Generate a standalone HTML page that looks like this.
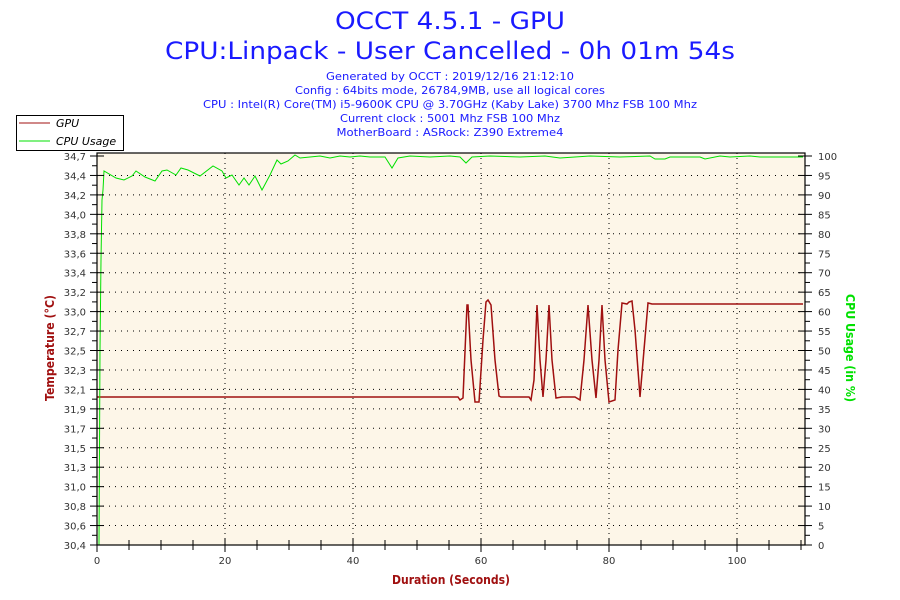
<!DOCTYPE html>
<html><head><meta charset="utf-8"><style>
html,body{margin:0;padding:0;background:#fff;width:900px;height:600px;overflow:hidden}
svg{display:block;font-family:"DejaVu Sans","Liberation Sans",sans-serif}
</style></head><body>
<svg id="s" width="900" height="600" xmlns="http://www.w3.org/2000/svg">
<rect x="97" y="153" width="708" height="392" fill="#fdf6e8"/>
<g fill="#1a1aff" text-anchor="middle">
<text x="450" y="29" font-size="24" textLength="230" lengthAdjust="spacingAndGlyphs">OCCT 4.5.1 - GPU</text>
<text x="450" y="59" font-size="24" textLength="570" lengthAdjust="spacingAndGlyphs">CPU:Linpack - User Cancelled - 0h 01m 54s</text>
<text x="450" y="80" font-size="11" textLength="248" lengthAdjust="spacingAndGlyphs">Generated by OCCT : 2019/12/16 21:12:10</text>
<text x="450" y="94" font-size="11" textLength="310" lengthAdjust="spacingAndGlyphs">Config : 64bits mode, 26784,9MB, use all logical cores</text>
<text x="450" y="108" font-size="11" textLength="494" lengthAdjust="spacingAndGlyphs">CPU : Intel(R) Core(TM) i5-9600K CPU @ 3.70GHz (Kaby Lake) 3700 Mhz FSB 100 Mhz</text>
<text x="450" y="122" font-size="11" textLength="220" lengthAdjust="spacingAndGlyphs">Current clock : 5001 Mhz FSB 100 Mhz</text>
<text x="450" y="136" font-size="11" textLength="227" lengthAdjust="spacingAndGlyphs">MotherBoard : ASRock: Z390 Extreme4</text>
</g>
<g id="grid"></g>
<polyline fill="none" stroke="#a01010" stroke-width="1.5" points="97,397 458,397 460,400 463,398 467,305 468,305 471,360 475,402 479,402 483,340 486,302 488,300 491,305 495,360 499,396 501,397 529,397 531,400 534,380 537,305 540,360 543,397 546,360 549,305 552,360 556,398 562,397 575,397 580,400 584,360 588,305 592,360 596,398 599,360 602,305 605,360 609,402 615,400 618,350 622,303 627,304 629,302 632,301 635,330 640,397 644,350 648,303 652,304 803,304"/>
<polyline fill="none" stroke="#00e000" stroke-width="1" points="99,545 100,350 101,260 102,200 103,190 104,171 116,178 124,180 132,176 136,171 145,177 155,181 162,171 167,170 176,175 181,168 188,170 200,176 213,166 222,171 226,178 232,175 239,185 244,178 249,185 255,176 262,190 270,175 277,160 281,164 288,161 295,155 300,158 310,157 320,156 330,158 340,156 350,157 360,156 370,157 385,157 392,168 398,158 410,156 430,157 450,156 460,157 466,163 472,157 490,156 520,157 545,156 560,158 590,156 620,157 650,156 655,159 665,159 670,157 700,157 705,159 720,156 730,157 750,156 760,157 803,157"/>
<rect x="97" y="153" width="708" height="392" fill="none" stroke="#000" stroke-width="1.2"/>
<g id="ticks"></g>
<rect x="16.5" y="115.5" width="107" height="35" fill="#fff" stroke="#000"/>
<line x1="19" y1="123" x2="50" y2="123" stroke="#a01010"/>
<line x1="19" y1="141" x2="50" y2="141" stroke="#00e000"/>
<text x="56" y="127" font-size="11" font-style="italic" fill="#000">GPU</text>
<text x="56" y="145" font-size="11" font-style="italic" fill="#000">CPU Usage</text>
<text x="451" y="584" font-size="12" font-weight="bold" fill="#a01010" text-anchor="middle" textLength="118" lengthAdjust="spacingAndGlyphs">Duration (Seconds)</text>
<text transform="translate(54,348) rotate(-90)" font-size="12" font-weight="bold" fill="#a01010" text-anchor="middle" textLength="106" lengthAdjust="spacingAndGlyphs">Temperature (°C)</text>
<text transform="translate(846,348) rotate(90)" font-size="12" font-weight="bold" fill="#00e000" text-anchor="middle" textLength="108" lengthAdjust="spacingAndGlyphs">CPU Usage (in %)</text>
</svg>
<script>
var ns="http://www.w3.org/2000/svg",g=document.getElementById("grid"),t=document.getElementById("ticks");
function el(p,n,a,txt){var e=document.createElementNS(ns,n);for(var k in a)e.setAttribute(k,a[k]);if(txt!=null)e.textContent=txt;p.appendChild(e);}
var L=["30,4","30,6","30,8","31,0","31,3","31,5","31,7","31,9","32,1","32,3","32,5","32,7","33,0","33,2","33,4","33,6","33,8","34,0","34,2","34,4","34,7"];
for(var i=0;i<=20;i++){var y=545-i*19.45;
 if(i>0&&i<20)el(g,"line",{x1:97,x2:805,y1:y,y2:y,stroke:"#000","stroke-dasharray":"1 5"});
 el(t,"line",{x1:90,x2:104,y1:y,y2:y,stroke:"#000"});
 if(i<20)el(t,"line",{x1:92,x2:97,y1:y-9.7,y2:y-9.7,stroke:"#000"});
 el(t,"text",{x:86,y:y+4,"font-size":"10","text-anchor":"end",fill:"#333"},L[i]);
 el(t,"line",{x1:798,x2:812,y1:y,y2:y,stroke:"#000"});
 if(i<20)el(t,"line",{x1:805,x2:810,y1:y-9.7,y2:y-9.7,stroke:"#000"});
 el(t,"text",{x:818,y:y+4,"font-size":"10",fill:"#333"},String(i*5));
}
for(var s=0;s<=110;s+=5){var x=97+s*6.4;
 if(s%20==0){if(s>0)el(g,"line",{x1:x,x2:x,y1:153,y2:545,stroke:"#000","stroke-dasharray":"1 4"});
  el(t,"line",{x1:x,x2:x,y1:538,y2:552,stroke:"#000"});
  el(t,"text",{x:x,y:564,"font-size":"10","text-anchor":"middle",fill:"#333"},String(s));}
 else el(t,"line",{x1:x,x2:x,y1:540,y2:550,stroke:"#000"});
}
</script>
</body></html>
